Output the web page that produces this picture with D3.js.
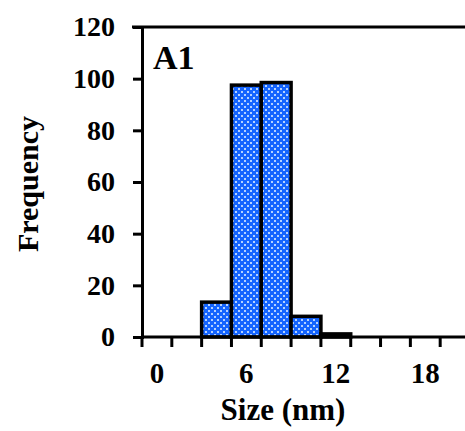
<!DOCTYPE html>
<html>
<head>
<meta charset="utf-8">
<script src="https://cdn.jsdelivr.net/npm/d3@7"></script>
<style>
  html, body { margin: 0; padding: 0; background: #fff; }
  svg { display: block; }
  text { font-family: "Liberation Serif", "Times New Roman", serif; font-weight: bold; fill: #000; }
</style>
</head>
<body>
<svg id="chart" width="465" height="431"></svg>
<script>
(function () {
// Data
const bins = ["0", "2", "4", "6", "8", "10", "12", "14", "16", "18", "20"];
const frequency = [0, 0, 13.5, 97.5, 98.5, 8, 1.2, 0, 0, 0, 0];
const xTickLabels = ["0", "6", "12", "18"];
const yTicks = [0, 20, 40, 60, 80, 100, 120];
const panelLabel = "A1";
const xTitle = "Size (nm)";
const yTitle = "Frequency";

const svg = d3.select("#chart");
const mLeft = 142, mRight = 470, mTop = 27, mBottom = 337;

const defs = svg.append("defs");
const pat = defs.append("pattern")
  .attr("id", "dots").attr("patternUnits", "userSpaceOnUse")
  .attr("width", 6).attr("height", 6);
pat.append("rect").attr("width", 6).attr("height", 6).attr("fill", "#1464ff");
pat.append("rect").attr("x", 1).attr("y", 1).attr("width", 2).attr("height", 2).attr("fill", "#b4d2ff");
pat.append("rect").attr("x", 4).attr("y", 4).attr("width", 2).attr("height", 2).attr("fill", "#b4d2ff");

const x = d3.scaleBand().domain(bins).range([mLeft, mRight]).padding(0);
const y = d3.scaleLinear().domain([0, 120]).range([mBottom, mTop]);

// Bars
svg.append("g").selectAll("rect")
  .data(bins.map((b, i) => ({ b, v: frequency[i] })).filter(d => d.v > 0))
  .join("rect")
  .attr("x", d => x(d.b))
  .attr("y", d => y(d.v))
  .attr("width", x.bandwidth())
  .attr("height", d => y(0) - y(d.v))
  .attr("fill", "url(#dots)")
  .attr("stroke", "#000")
  .attr("stroke-width", 3.5);

// Top border
svg.append("line")
  .attr("x1", mLeft - 10).attr("x2", 465)
  .attr("y1", y(120)).attr("y2", y(120))
  .attr("stroke", "#000").attr("stroke-width", 3);

// Y axis
const yAxis = d3.axisLeft(y).tickValues(yTicks).tickSize(9).tickPadding(18).tickFormat(d3.format("d"));
const gy = svg.append("g").attr("transform", `translate(${mLeft},0)`).call(yAxis);
gy.select(".domain").attr("stroke", "#000").attr("stroke-width", 3);
gy.selectAll(".tick line").attr("stroke", "#000").attr("stroke-width", 3);
gy.selectAll(".tick text").attr("font-size", 28).attr("font-family", "Liberation Serif").attr("font-weight", "bold").attr("fill", "#000");

// X axis: ticks at bin edges
const edges = bins.map(b => x(b));
const gx = svg.append("g");
gx.append("line").attr("x1", mLeft).attr("x2", 465).attr("y1", mBottom).attr("y2", mBottom)
  .attr("stroke", "#000").attr("stroke-width", 3);
gx.selectAll("line.tk").data(edges).join("line").attr("class", "tk")
  .attr("x1", d => d).attr("x2", d => d).attr("y1", mBottom).attr("y2", mBottom + 10)
  .attr("stroke", "#000").attr("stroke-width", 3);
gx.selectAll("text").data(xTickLabels).join("text")
  .attr("x", d => x(d) + x.bandwidth() / 2)
  .attr("y", 383)
  .attr("text-anchor", "middle")
  .attr("font-size", 29)
  .text(d => d);

// Titles
svg.append("text").attr("x", 283).attr("y", 420).attr("text-anchor", "middle").attr("font-size", 31).text(xTitle);
svg.append("text").attr("transform", "translate(38,184) rotate(-90)").attr("text-anchor", "middle").attr("font-size", 30).text(yTitle);
svg.append("text").attr("x", 153).attr("y", 69).attr("font-size", 34).text(panelLabel);
})();
</script>
</body>
</html>
